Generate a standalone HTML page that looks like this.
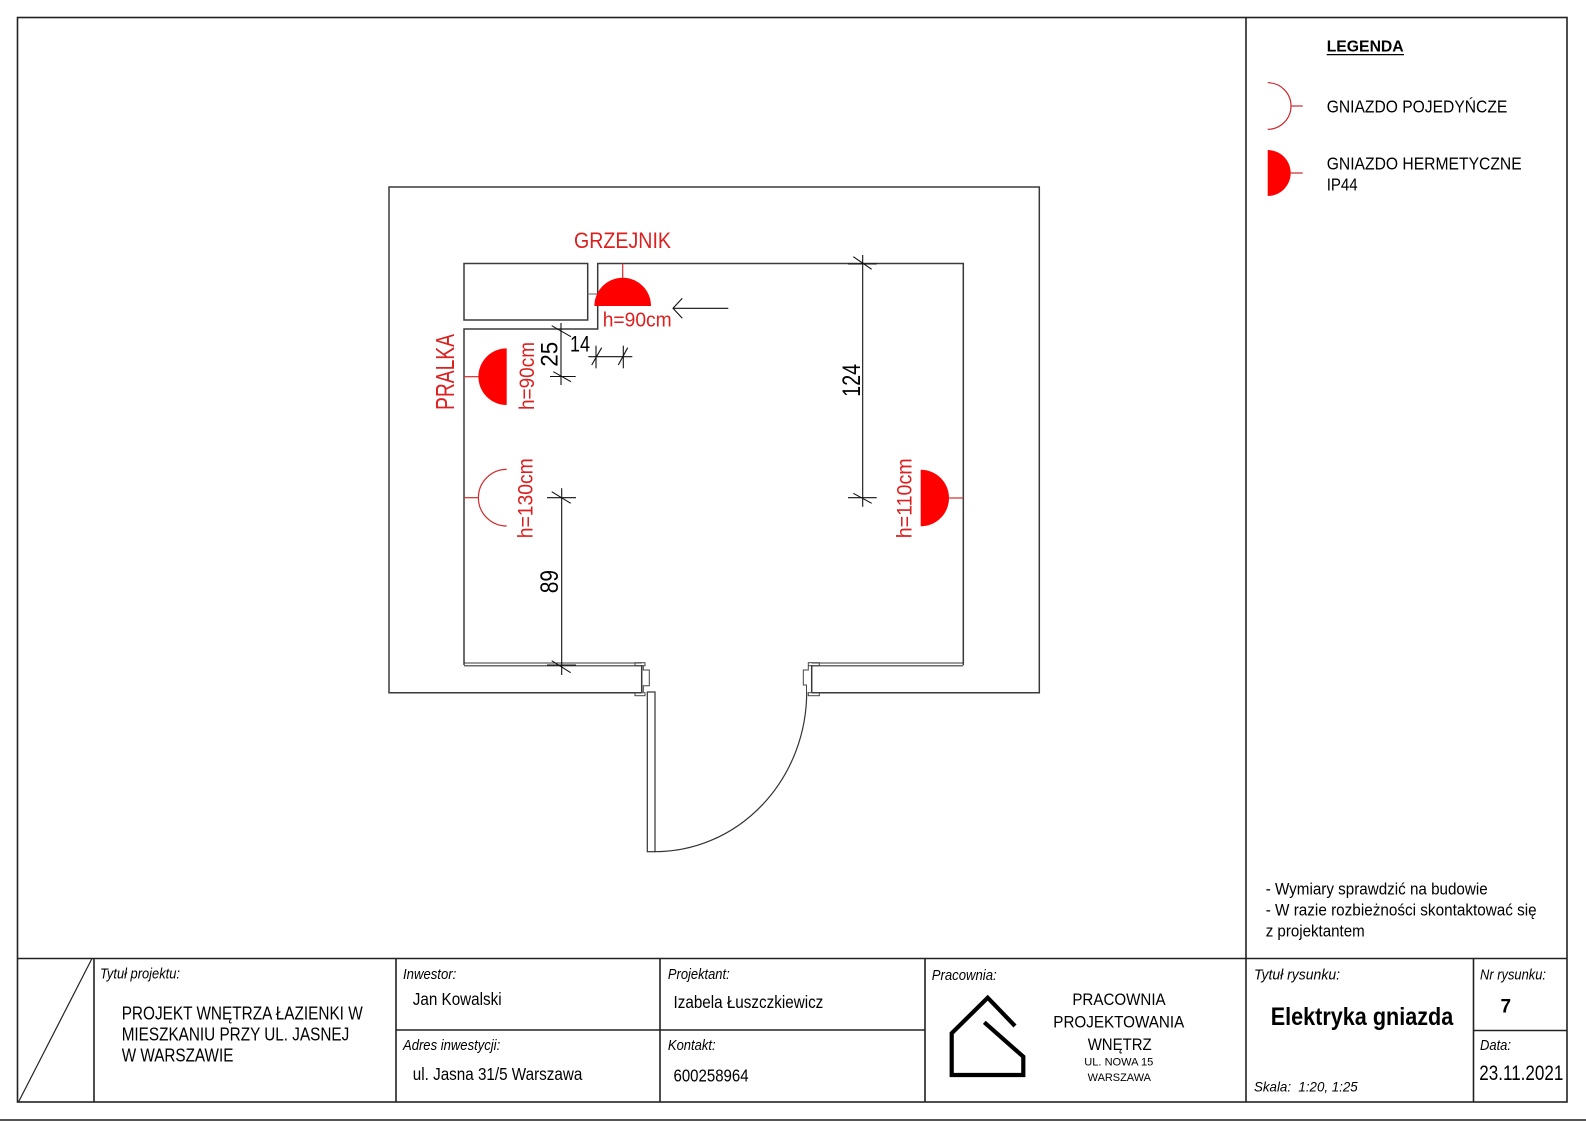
<!DOCTYPE html>
<html>
<head>
<meta charset="utf-8">
<style>
  html,body{margin:0;padding:0;background:#fff;}
  svg{display:block;}
  text{font-family:"Liberation Sans", Arial, sans-serif;}
</style>
</head>
<body>
<svg xmlns="http://www.w3.org/2000/svg" width="1586" height="1122" viewBox="0 0 1586 1122">
  <rect x="0" y="0" width="1586" height="1122" fill="#fff"/>

  <!-- Page border -->
  <g stroke="#222" stroke-width="1.6" fill="none">
    <rect x="17.5" y="17.5" width="1549.5" height="1084.5"/>
    <line x1="1246" y1="17.5" x2="1246" y2="1102"/>
    <line x1="17.5" y1="958.5" x2="1567" y2="958.5"/>
    <line x1="94" y1="958.5" x2="94" y2="1102"/>
    <line x1="18.5" y1="1102" x2="92" y2="958.5" stroke-width="1.2"/>
    <line x1="396" y1="958.5" x2="396" y2="1102"/>
    <line x1="660" y1="958.5" x2="660" y2="1102"/>
    <line x1="925" y1="958.5" x2="925" y2="1102"/>
    <line x1="1473.5" y1="958.5" x2="1473.5" y2="1102"/>
    <line x1="396" y1="1030" x2="925" y2="1030"/>
    <line x1="1473.5" y1="1030.5" x2="1567" y2="1030.5"/>
  </g>
  <line x1="0" y1="1120" x2="1586" y2="1120" stroke="#555" stroke-width="2"/>

  <!-- ===== Floor plan ===== -->
  <g stroke="#3a3a3a" stroke-width="1.5" fill="none">
    <polyline points="641.7,692.7 389,692.7 389,187 1039.3,187 1039.3,692.7 811.7,692.7"/>
    <polyline points="464,665 464,329 597.7,329 597.7,263.5 963.3,263.5 963.3,665"/>
    <line x1="464" y1="663" x2="641.7" y2="663" stroke-width="1.1"/>
    <line x1="464" y1="665.8" x2="641.7" y2="665.8" stroke-width="1.1"/>
    <line x1="811.7" y1="663" x2="963.3" y2="663" stroke-width="1.1"/>
    <line x1="811.7" y1="665.8" x2="963.3" y2="665.8" stroke-width="1.1"/>
    <rect x="464" y="263.5" width="123.7" height="56.5"/>
    <line x1="587.7" y1="294" x2="597.7" y2="294" stroke="#777" stroke-width="1.2"/>
    <line x1="641.7" y1="665" x2="641.7" y2="692.7"/>
    <line x1="811.7" y1="665" x2="811.7" y2="692.7"/>
  </g>
  <g stroke="#444" stroke-width="1" fill="none">
    <rect x="635" y="662.7" width="10" height="3"/>
    <rect x="635" y="692.7" width="10" height="3"/>
    <rect x="808.3" y="662.7" width="11" height="3"/>
    <rect x="808.3" y="692.7" width="11" height="3"/>
    <polyline points="643.3,666 643.3,670 649.3,670 649.3,685.7 643.3,685.7 643.3,692"/>
    <polyline points="808.3,666 808.3,670 803.3,670 803.3,685 806.5,685 806.5,692"/>
    <rect x="647.3" y="692" width="7.7" height="159.7" stroke="#333" stroke-width="1.2"/>
    <path d="M655,851.7 A151.7,159.7 0 0 0 806.7,692" stroke="#333" stroke-width="1.2"/>
  </g>

  <!-- Dimension lines -->
  <g stroke="#111" stroke-width="1.1" fill="none">
    <line x1="561" y1="323" x2="561" y2="385"/>
    <line x1="551.7" y1="325.7" x2="571" y2="336.7"/>
    <line x1="550" y1="376.5" x2="575.7" y2="376.5"/>
    <line x1="553.3" y1="371.7" x2="571" y2="381.7"/>
    <line x1="588.3" y1="356.7" x2="632.3" y2="356.7"/>
    <line x1="596" y1="345.7" x2="596" y2="368.3"/>
    <line x1="623.3" y1="345.7" x2="623.3" y2="368.3"/>
    <line x1="591.7" y1="365" x2="601.7" y2="347.7"/>
    <line x1="618.3" y1="365" x2="627.7" y2="347.7"/>
    <line x1="862.7" y1="255" x2="862.7" y2="506.7"/>
    <line x1="848" y1="264" x2="876.7" y2="264"/>
    <line x1="853.3" y1="256.7" x2="871.7" y2="269.3"/>
    <line x1="848" y1="497.7" x2="876.7" y2="497.7"/>
    <line x1="853.3" y1="493.3" x2="871.7" y2="503.3"/>
    <line x1="561.7" y1="488.3" x2="561.7" y2="675"/>
    <line x1="547" y1="497.7" x2="576" y2="497.7"/>
    <line x1="551.7" y1="491.7" x2="570.7" y2="503.3"/>
    <line x1="547" y1="665" x2="576" y2="665"/>
    <line x1="551.7" y1="660.7" x2="570.7" y2="672.7"/>
    <line x1="673" y1="308.3" x2="728.3" y2="308.3"/>
    <polyline points="682.3,298.3 673,308.3 682.3,318.3"/>
  </g>

  <!-- Sockets -->
  <g fill="#ff0000" stroke="none">
    <path d="M594.4,306 A28.3,28.3 0 0 1 651,306 Z"/>
    <path d="M506.7,348.4 A28.3,28.3 0 0 0 506.7,405 Z"/>
    <path d="M920.7,469.7 A28.3,28.3 0 0 1 920.7,526.3 Z"/>
  </g>
  <g stroke="#d42a2a" stroke-width="1.2" fill="none">
    <line x1="622.7" y1="263.5" x2="622.7" y2="278"/>
    <line x1="464" y1="376.7" x2="478.4" y2="376.7"/>
    <line x1="949" y1="498" x2="963.3" y2="498"/>
    <path d="M506.7,469.4 A28.3,28.3 0 0 0 506.7,526"/>
    <line x1="464" y1="497.7" x2="478.4" y2="497.7"/>
  </g>

  <!-- Plan texts -->
  <g fill="#dd1f1f">
    <text x="574" y="248" font-size="22" textLength="97" lengthAdjust="spacingAndGlyphs">GRZEJNIK</text>
    <text x="602.7" y="326.5" font-size="20" textLength="69" lengthAdjust="spacingAndGlyphs">h=90cm</text>
    <text transform="translate(454,410) rotate(-90)" font-size="26" textLength="76" lengthAdjust="spacingAndGlyphs">PRALKA</text>
    <text transform="translate(534,410) rotate(-90)" font-size="21" textLength="68" lengthAdjust="spacingAndGlyphs">h=90cm</text>
    <text transform="translate(532.5,538.3) rotate(-90)" font-size="21" textLength="80" lengthAdjust="spacingAndGlyphs">h=130cm</text>
    <text transform="translate(911.5,538.3) rotate(-90)" font-size="21" textLength="80" lengthAdjust="spacingAndGlyphs">h=110cm</text>
  </g>
  <g fill="#000">
    <text transform="translate(557.5,366.7) rotate(-90)" font-size="24" textLength="25" lengthAdjust="spacingAndGlyphs">25</text>
    <text x="570" y="351.7" font-size="22" textLength="20" lengthAdjust="spacingAndGlyphs">14</text>
    <text transform="translate(860,396.7) rotate(-90)" font-size="25" textLength="32.7" lengthAdjust="spacingAndGlyphs">124</text>
    <text transform="translate(558,593.3) rotate(-90)" font-size="25" textLength="23.3" lengthAdjust="spacingAndGlyphs">89</text>
  </g>

  <!-- ===== Legend ===== -->
  <text x="1326.7" y="51.7" font-size="16" font-weight="bold" textLength="77" lengthAdjust="spacingAndGlyphs">LEGENDA</text>
  <line x1="1326.7" y1="54.6" x2="1404" y2="54.6" stroke="#000" stroke-width="1.3"/>
  <g stroke="#c8282d" stroke-width="1.2" fill="none">
    <path d="M1267.7,82.7 A23.3,23.3 0 0 1 1267.7,129.3"/>
    <line x1="1291" y1="106" x2="1302.7" y2="106"/>
    <line x1="1290.7" y1="173" x2="1302.7" y2="173"/>
  </g>
  <path d="M1267.7,150 A23,23 0 0 1 1267.7,196 Z" fill="#ff0000"/>
  <g fill="#000" font-size="17.5">
    <text x="1326.7" y="112.7" textLength="180.6" lengthAdjust="spacingAndGlyphs">GNIAZDO POJEDYŃCZE</text>
    <text x="1326.7" y="169.3" textLength="195" lengthAdjust="spacingAndGlyphs">GNIAZDO HERMETYCZNE</text>
    <text x="1326.7" y="190.7" textLength="31" lengthAdjust="spacingAndGlyphs">IP44</text>
  </g>

  <!-- Notes -->
  <g fill="#000" font-size="16.5">
    <text x="1265.7" y="894.5" textLength="222" lengthAdjust="spacingAndGlyphs">- Wymiary sprawdzić na budowie</text>
    <text x="1265.7" y="915.5" textLength="271" lengthAdjust="spacingAndGlyphs">- W razie rozbieżności skontaktować się</text>
    <text x="1265.7" y="936.5" textLength="99" lengthAdjust="spacingAndGlyphs">z projektantem</text>
  </g>

  <!-- ===== Title block ===== -->
  <g fill="#000">
    <text x="100" y="978.3" font-size="14.5" font-style="italic" textLength="80" lengthAdjust="spacingAndGlyphs">Tytuł projektu:</text>
    <text x="121.7" y="1019.3" font-size="18.5" textLength="241" lengthAdjust="spacingAndGlyphs">PROJEKT WNĘTRZA ŁAZIENKI W</text>
    <text x="121.7" y="1040.7" font-size="18.5" textLength="227.6" lengthAdjust="spacingAndGlyphs">MIESZKANIU PRZY UL. JASNEJ</text>
    <text x="121.7" y="1061.7" font-size="18.5" textLength="111.7" lengthAdjust="spacingAndGlyphs">W WARSZAWIE</text>

    <text x="403" y="979" font-size="14.5" font-style="italic" textLength="53.3" lengthAdjust="spacingAndGlyphs">Inwestor:</text>
    <text x="412.8" y="1005" font-size="17.5" textLength="88.8" lengthAdjust="spacingAndGlyphs">Jan Kowalski</text>
    <text x="403" y="1050" font-size="14.5" font-style="italic" textLength="97.2" lengthAdjust="spacingAndGlyphs">Adres inwestycji:</text>
    <text x="412.8" y="1080" font-size="17.5" textLength="169.5" lengthAdjust="spacingAndGlyphs">ul. Jasna 31/5 Warszawa</text>

    <text x="667.9" y="979" font-size="14.5" font-style="italic" textLength="61.8" lengthAdjust="spacingAndGlyphs">Projektant:</text>
    <text x="673.5" y="1008" font-size="17.5" textLength="149.8" lengthAdjust="spacingAndGlyphs">Izabela Łuszczkiewicz</text>
    <text x="667.9" y="1050" font-size="14.5" font-style="italic" textLength="47.7" lengthAdjust="spacingAndGlyphs">Kontakt:</text>
    <text x="673.5" y="1081.5" font-size="17.5" textLength="75.1" lengthAdjust="spacingAndGlyphs">600258964</text>

    <text x="931.7" y="980" font-size="14.5" font-style="italic" textLength="65" lengthAdjust="spacingAndGlyphs">Pracownia:</text>
    <g text-anchor="middle">
      <text x="1119" y="1005" font-size="16.5" textLength="93.3" lengthAdjust="spacingAndGlyphs">PRACOWNIA</text>
      <text x="1118.8" y="1027.7" font-size="16.5" textLength="131" lengthAdjust="spacingAndGlyphs">PROJEKTOWANIA</text>
      <text x="1119.7" y="1050" font-size="16.5" textLength="64" lengthAdjust="spacingAndGlyphs">WNĘTRZ</text>
      <text x="1118.8" y="1065.7" font-size="11" textLength="69" lengthAdjust="spacingAndGlyphs">UL. NOWA 15</text>
      <text x="1119.3" y="1081" font-size="11" textLength="63.3" lengthAdjust="spacingAndGlyphs">WARSZAWA</text>
    </g>

    <text x="1254" y="979.3" font-size="14.5" font-style="italic" textLength="86" lengthAdjust="spacingAndGlyphs">Tytuł rysunku:</text>
    <text x="1270.7" y="1025" font-size="25" font-weight="bold" textLength="182.6" lengthAdjust="spacingAndGlyphs">Elektryka gniazda</text>
    <text x="1254" y="1091.7" font-size="14" font-style="italic" textLength="103.7" lengthAdjust="spacingAndGlyphs">Skala:&#160; 1:20, 1:25</text>

    <text x="1480" y="979.3" font-size="14.5" font-style="italic" textLength="66" lengthAdjust="spacingAndGlyphs">Nr rysunku:</text>
    <text x="1500.5" y="1012.7" font-size="19" font-weight="bold">7</text>
    <text x="1480" y="1050" font-size="14.5" font-style="italic" textLength="31" lengthAdjust="spacingAndGlyphs">Data:</text>
    <text x="1479.3" y="1080" font-size="21" textLength="84" lengthAdjust="spacingAndGlyphs">23.11.2021</text>
  </g>

  <!-- Logo -->
  <polyline points="1015,1026 987.7,997.7 951.7,1033.3 951.7,1075 1023.3,1075 1023.3,1056.7 984.3,1022.3"
            fill="none" stroke="#000" stroke-width="4.2" stroke-linejoin="miter"/>
</svg>
</body>
</html>
